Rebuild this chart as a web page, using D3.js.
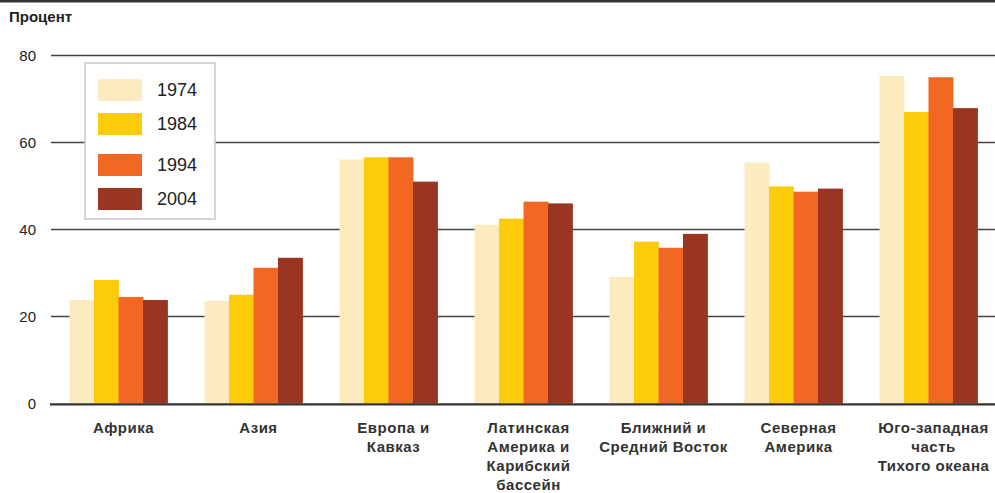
<!DOCTYPE html>
<html><head><meta charset="utf-8">
<script src="https://cdn.jsdelivr.net/npm/d3@7"></script>
<style>html,body{margin:0;padding:0;background:#fff;} svg{display:block;font-family:"Liberation Sans",Arial,sans-serif;}</style>
</head><body>
<svg id="c" width="995" height="493"></svg>
<script>
const categories = [
  ["Африка"],
  ["Азия"],
  ["Европа и", "Кавказ"],
  ["Латинская", "Америка и", "Карибский", "бассейн"],
  ["Ближний и", "Средний Восток"],
  ["Северная", "Америка"],
  ["Юго-западная", "часть", "Тихого океана"]
];
const years = ["1974", "1984", "1994", "2004"];
const v1974 = [23.8, 23.6, 56.1, 41.1, 29.1, 55.4, 75.3];
const v1984 = [28.4, 25.0, 56.6, 42.5, 37.2, 49.9, 67.0];
const v1994 = [24.5, 31.2, 56.6, 46.4, 35.8, 48.7, 75.0];
const v2004 = [23.8, 33.5, 51.0, 46.0, 39.0, 49.4, 67.9];
const yTicks = [0, 20, 40, 60, 80];
const colors = ["#FDEBC0", "#FCCB0A", "#F26722", "#993521"];
const series = [v1974, v1984, v1994, v2004];

const svg = d3.select("#c");
svg.append("rect").attr("x",0).attr("y",0).attr("width",995).attr("height",2.5).attr("fill","#333");

const y = d3.scaleLinear().domain([0, 80]).range([403.5, 55.5]);
const x0 = d3.scaleBand().domain(d3.range(categories.length)).range([51, 996]).padding(0);
const x1 = d3.scaleBand().domain(years).range([18.5, 116.5]).padding(0);

svg.append("text").attr("x",9).attr("y",22).attr("font-size",15).attr("font-weight","bold").attr("fill","#222").text("Процент");

// grid
svg.selectAll(".grid").data(yTicks.filter(d=>d>0)).join("line")
  .attr("x1",51).attr("x2",995).attr("y1",d=>y(d)).attr("y2",d=>y(d))
  .attr("stroke","#444").attr("stroke-width",1.6);

// y labels
svg.selectAll(".yl").data(yTicks).join("text")
  .attr("x",36).attr("y",d=>y(d)).attr("dy","0.35em").attr("text-anchor","end")
  .attr("font-size",15).attr("fill","#222").text(d=>d);

// bars
const g = svg.selectAll(".grp").data(categories).join("g")
  .attr("transform",(d,i)=>`translate(${x0(i)},0)`);
g.selectAll("rect").data((d,i)=>years.map((yr,k)=>({yr,k,v:series[k][i]}))).join("rect")
  .attr("x",d=>x1(d.yr)).attr("width",x1.bandwidth()+0.4)
  .attr("y",d=>y(d.v)).attr("height",d=>y(0)-y(d.v))
  .attr("fill",d=>colors[d.k]);

// axis line
svg.append("line").attr("x1",50).attr("x2",995).attr("y1",y(0)+0.8).attr("y2",y(0)+0.8)
  .attr("stroke","#333").attr("stroke-width",2.2);

// x labels
const xl = svg.selectAll(".xl").data(categories).join("text")
  .attr("text-anchor","middle").attr("font-size",15).attr("letter-spacing","0.5px")
  .attr("font-weight","bold").attr("fill","#333");
xl.each(function(lines,i){
  const t = d3.select(this);
  lines.forEach((ln,j)=>{
    t.append("tspan").attr("x",x0(i)+x0.bandwidth()/2+5).attr("y",433+j*19).text(ln);
  });
});

// legend
const lg = svg.append("g");
lg.append("rect").attr("x",85).attr("y",63).attr("width",130).attr("height",156)
  .attr("fill","#fff").attr("stroke","#ccc").attr("stroke-width",1.6);
const ly = [79, 113, 154, 188];
years.forEach((yr,k)=>{
  lg.append("rect").attr("x",98).attr("y",ly[k]).attr("width",44).attr("height",22).attr("fill",colors[k]);
  lg.append("text").attr("x",157).attr("y",ly[k]+11).attr("dy","0.35em").attr("font-size",18).attr("fill","#222").text(yr);
});
</script>
</body></html>
